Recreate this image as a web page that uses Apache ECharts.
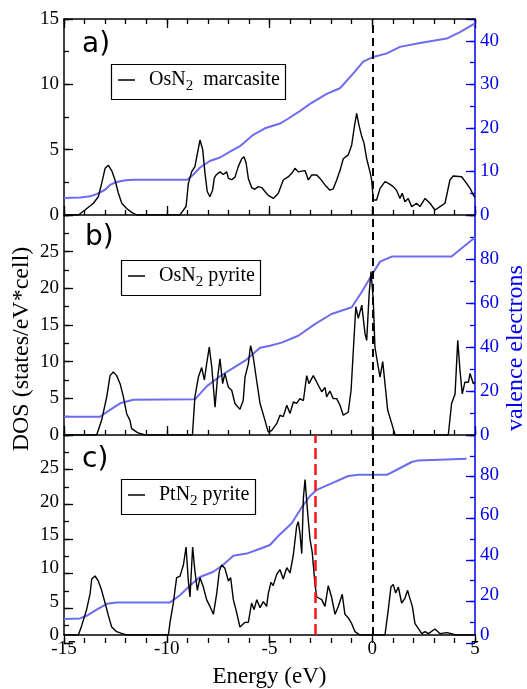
<!DOCTYPE html>
<html>
<head>
<meta charset="utf-8">
<script src="https://cdn.jsdelivr.net/npm/echarts@6/dist/echarts.min.js"></script>
<style>
  html, body { margin: 0; padding: 0; background: #fff; }
  #chart { width: 527px; height: 689px; }
</style>
</head>
<body>
<div id="chart"></div>
<script>
// energy range and tick labels
var energyMin = -15, energyMax = 5;
var fermiLevel = 0;
var redMarker = -2.75;

// panel a) OsN2 marcasite : [energy, DOS]
var dosA = [[-15,0],[-14.3,0],[-13.98,0.38],[-13.57,0.9],[-13.33,1.4],[-13.17,2.4],[-13.0,3.57],[-12.84,3.8],[-12.68,3.4],[-12.52,2.7],[-12.36,1.7],[-12.19,0.9],[-11.95,0.5],[-11.71,0.2],[-11.46,0],[-9.36,0],[-9.27,0.2],[-9.06,0.65],[-8.95,2.4],[-8.79,3.3],[-8.63,3.7],[-8.51,4.7],[-8.38,5.74],[-8.25,5.0],[-8.14,3.2],[-8.03,1.8],[-7.9,1.4],[-7.77,1.9],[-7.69,2.8],[-7.6,3.06],[-7.41,3.3],[-7.25,3.1],[-7.08,3.3],[-7.0,2.8],[-6.84,2.7],[-6.68,2.9],[-6.52,3.7],[-6.35,4.3],[-6.24,4.46],[-6.14,4.0],[-6.03,2.8],[-5.87,2.1],[-5.71,1.97],[-5.55,2.17],[-5.38,2.1],[-5.22,1.8],[-5.06,1.5],[-4.81,1.27],[-4.57,1.66],[-4.33,2.68],[-4.08,2.93],[-3.92,3.19],[-3.76,3.57],[-3.6,3.3],[-3.43,3.36],[-3.27,3.4],[-3.11,2.68],[-2.95,3.06],[-2.7,3.06],[-2.54,2.8],[-2.3,2.3],[-2.06,1.9],[-1.9,2.0],[-1.73,2.68],[-1.57,3.4],[-1.41,4.3],[-1.17,4.6],[-1.0,5.36],[-0.87,6.76],[-0.76,7.78],[-0.65,6.9],[-0.51,6.0],[-0.4,5.5],[-0.27,4.3],[-0.11,3.3],[-0.03,2.68],[0.05,1.15],[0.21,1.15],[0.38,2.04],[0.62,2.55],[0.81,2.4],[1.02,2.17],[1.18,1.9],[1.35,1.27],[1.46,1.66],[1.59,1.02],[1.75,1.27],[1.92,0.64],[2.16,0.9],[2.32,0.64],[2.57,1.27],[2.81,0.9],[3.05,0.38],[3.3,0.64],[3.54,0.9],[3.78,2.68],[3.94,2.98],[4.35,2.93],[4.6,2.4],[4.76,2.04],[4.92,1.53],[5,1.35]];
// panel a) integrated valence electrons
var elecA = [[-15,3.9],[-14.2,4.0],[-13.73,4.3],[-13.41,4.8],[-13.0,5.8],[-12.76,6.9],[-12.44,7.6],[-12.0,8.0],[-11.63,8.1],[-9.0,8.1],[-8.7,9.3],[-8.38,10.9],[-7.9,12.4],[-7.41,13.2],[-6.9,14.6],[-6.44,15.8],[-5.79,18.4],[-5.22,19.9],[-4.49,21.0],[-4.1,22.1],[-3.6,23.6],[-3.03,25.5],[-2.54,26.9],[-2.22,27.8],[-1.57,29.1],[-0.92,32.5],[-0.44,35.2],[0,36.2],[0.71,37.1],[1.35,38.6],[2.32,39.5],[3.62,40.5],[4.27,42.0],[5,44.0]];

// panel b) OsN2 pyrite
var dosB = [[-15,0],[-13.41,0],[-13.17,2.0],[-12.92,5.2],[-12.76,8.1],[-12.6,8.6],[-12.44,8.1],[-12.27,7.0],[-12.11,5.2],[-11.95,2.9],[-11.79,2.0],[-11.71,0.87],[-11.46,0.4],[-11.3,0.2],[-11.06,0],[-8.75,0],[-8.63,5.2],[-8.46,7.9],[-8.3,9.2],[-8.17,7.5],[-8.06,9.7],[-7.93,12.0],[-7.81,9.3],[-7.65,3.8],[-7.54,7.5],[-7.41,10.4],[-7.28,7.0],[-7.17,8.4],[-7.0,6.5],[-6.84,6.1],[-6.68,4.3],[-6.44,3.5],[-6.28,4.7],[-6.19,7.9],[-6.03,9.7],[-5.92,12.2],[-5.79,10.6],[-5.63,7.5],[-5.46,4.3],[-5.22,2.0],[-5.06,0.4],[-4.9,0.6],[-4.65,1.55],[-4.49,2.7],[-4.33,2.5],[-4.16,4.05],[-4.0,2.95],[-3.84,4.5],[-3.68,4.3],[-3.52,4.96],[-3.35,4.7],[-3.19,8.1],[-3.08,7.0],[-2.87,8.1],[-2.7,7.2],[-2.46,5.9],[-2.3,6.5],[-2.22,5.2],[-2.06,6.0],[-1.9,4.96],[-1.73,4.96],[-1.57,4.05],[-1.41,2.7],[-1.17,3.1],[-1.03,6.1],[-0.92,11.6],[-0.8,17.5],[-0.68,15.9],[-0.51,17.7],[-0.35,13.8],[-0.27,12.9],[-0.15,19.3],[-0.06,22.3],[0.05,18.4],[0.13,12.0],[0.29,9.3],[0.38,7.9],[0.51,10.0],[0.62,7.0],[0.75,3.4],[0.95,1.55],[1.11,0],[3.7,0],[3.86,4.3],[4.03,5.6],[4.16,12.9],[4.27,8.8],[4.38,5.6],[4.51,7.2],[4.68,7.2],[4.76,8.4],[4.92,7.0],[5,7.2]];
var elecB = [[-15,8.3],[-13.25,8.3],[-12.76,11.4],[-12.27,14.4],[-11.63,16.0],[-8.63,16.2],[-8.06,22.1],[-7.41,26.7],[-6.76,30.5],[-6.11,34.3],[-5.46,39.7],[-4.98,40.6],[-4.41,42.0],[-3.6,45.1],[-2.79,50.4],[-1.98,55.0],[-1.0,58.1],[-0.51,65.0],[-0.03,72.6],[0.38,78.8],[0.95,81.1],[3.86,81.1],[4.35,84.9],[5,89.8]];

// panel c) PtN2 pyrite
var dosC = [[-15,0],[-14.3,0],[-14.14,1.4],[-13.9,3.8],[-13.73,6.2],[-13.65,8.4],[-13.49,8.85],[-13.33,8.1],[-13.17,6.7],[-13.0,4.8],[-12.84,2.9],[-12.68,1.2],[-12.44,0.5],[-12.2,0.25],[-11.95,0],[-9.92,0],[-9.84,1.9],[-9.68,4.8],[-9.52,8.6],[-9.36,8.8],[-9.19,10.5],[-9.06,13.2],[-8.95,8.1],[-8.87,5.7],[-8.74,13.2],[-8.63,9.6],[-8.51,6.7],[-8.38,8.6],[-8.22,7.2],[-8.06,5.3],[-7.9,4.3],[-7.73,3.1],[-7.57,6.2],[-7.44,9.6],[-7.33,10.5],[-7.17,10.0],[-7.0,8.1],[-6.89,8.6],[-6.76,5.3],[-6.6,3.4],[-6.44,1.2],[-6.19,1.9],[-6.03,1.9],[-5.87,4.8],[-5.75,3.8],[-5.62,5.3],[-5.46,4.1],[-5.3,5.0],[-5.14,4.3],[-5.06,6.2],[-4.93,7.9],[-4.82,7.4],[-4.65,9.1],[-4.49,9.8],[-4.33,8.4],[-4.16,10.1],[-4.0,9.3],[-3.84,12.0],[-3.68,16.3],[-3.6,17.0],[-3.52,15.3],[-3.43,12.2],[-3.35,20.6],[-3.27,23.3],[-3.14,18.2],[-3.03,14.4],[-2.92,12.4],[-2.79,7.7],[-2.7,5.7],[-2.46,5.3],[-2.3,4.3],[-2.14,7.4],[-1.98,5.7],[-1.81,3.1],[-1.65,4.3],[-1.46,6.1],[-1.33,3.1],[-1.17,2.6],[-1.0,1.7],[-0.84,0.5],[-0.6,0],[0.62,0],[0.78,3.8],[0.91,7.2],[1.02,7.6],[1.14,6.3],[1.27,7.2],[1.43,4.8],[1.59,5.5],[1.72,6.7],[1.83,5.5],[1.95,4.3],[2.08,1.7],[2.24,1.0],[2.41,0.2],[2.57,0.5],[2.73,0.2],[3.05,0.9],[3.3,0.2],[3.62,0.35],[3.86,0.2],[4.03,0],[5,0]];
var elecC = [[-15,8.0],[-14.22,8.3],[-13.9,9.6],[-13.41,12.7],[-12.92,15.6],[-12.44,16.3],[-9.84,16.3],[-9.36,19.9],[-8.87,24.7],[-8.38,29.0],[-7.73,31.6],[-7.25,35.1],[-6.76,39.6],[-6.11,40.7],[-5.46,43.1],[-4.98,45.0],[-4.57,49.5],[-3.92,55.9],[-3.43,63.9],[-3.03,69.5],[-2.7,72.6],[-1.98,75.8],[-1.17,79.5],[-0.68,80.1],[0.71,80.1],[1.27,83.0],[1.92,86.5],[2.24,87.3],[4.59,88.1]];

var seriesNames = ['OsN2 marcasite', 'OsN2 pyrite', 'PtN2 pyrite'];
var panelLabels = ['a)', 'b)', 'c)'];

// left (DOS) and right (electrons) scales per panel: [max, major step, minor step]
var dosScale = [[15, 5, 2.5], [30, 5, 2.5], [30, 5, 2.5]];
var elecScale = [[45, 10, 5], [100, 20, 10], [100, 20, 10]];

var SERIF = 'Liberation Serif';
var BLUE = '#0000ee';
var LINEBLUE = '#6c6cf0';

var LEFT = 64, RIGHT = 52, PLOT_R = 527 - RIGHT;
var panels = [{top: 19, height: 196}, {top: 215, height: 220}, {top: 435, height: 208}];

var grids = [], xAxes = [], yAxes = [];

// main panels: axis lines and labels
panels.forEach(function (p, i) {
  grids.push({left: LEFT, right: RIGHT, top: p.top, height: p.height});
});
panels.forEach(function (p, i) {
  var ax = {
    type: 'value', gridIndex: i, position: 'bottom',
    min: energyMin, max: energyMax, interval: 5,
    axisLine: {show: true, onZero: false, lineStyle: {color: '#000', width: 1.5}},
    axisTick: {show: false},
    splitLine: {show: false},
    axisLabel: {show: i === 2, color: '#000', fontFamily: SERIF, fontSize: 19, margin: 5}
  };
  if (i === 2) {
    ax.name = 'Energy (eV)';
    ax.nameLocation = 'middle';
    ax.nameGap = 30;
    ax.nameTextStyle = {fontFamily: SERIF, fontSize: 23, color: '#000'};
  }
  xAxes.push(ax);
});
xAxes.push({
  type: 'value', gridIndex: 0, position: 'top',
  min: energyMin, max: energyMax, interval: 5,
  axisLine: {show: true, onZero: false, lineStyle: {color: '#000', width: 1.5}},
  axisTick: {show: false}, splitLine: {show: false}, axisLabel: {show: false}
});

function mainY(i, side, scale, showMax, color) {
  var max = scale[0];
  return {
    type: 'value', gridIndex: i, position: side,
    min: 0, max: max, interval: scale[1],
    axisLine: {show: true, onZero: false, lineStyle: {color: color, width: 1.5}},
    axisTick: {show: false},
    splitLine: {show: false},
    axisLabel: {
      color: color, fontFamily: SERIF, fontSize: 19, margin: 5,
      formatter: function (v) { return (!showMax && v >= max) ? '' : String(v); }
    }
  };
}
panels.forEach(function (p, i) {
  yAxes.push(mainY(i, 'left', dosScale[i], i === 0, '#000'));
  yAxes.push(mainY(i, 'right', elecScale[i], false, BLUE));
});

// inward tick marks: thin strip grids whose split lines act as ticks
function xTickStrip(top, len, interval) {
  grids.push({left: LEFT, right: RIGHT, top: top, height: len});
  var g = grids.length - 1;
  xAxes.push({
    type: 'value', gridIndex: g, min: energyMin, max: energyMax, interval: interval,
    axisLine: {show: false, onZero: false}, axisTick: {show: false}, axisLabel: {show: false},
    splitLine: {show: true, lineStyle: {color: '#000', width: 1.3}}
  });
  yAxes.push({type: 'value', gridIndex: g, show: false, min: 0, max: 1});
}
function yTickStrip(left, len, p, max, interval, color) {
  grids.push({left: left, width: len, top: p.top, height: p.height});
  var g = grids.length - 1;
  yAxes.push({
    type: 'value', gridIndex: g, min: 0, max: max, interval: interval,
    axisLine: {show: false, onZero: false}, axisTick: {show: false}, axisLabel: {show: false},
    splitLine: {show: true, lineStyle: {color: color, width: 1.3}}
  });
  xAxes.push({type: 'value', gridIndex: g, show: false, min: 0, max: 1});
}

var MAJOR = 9, MINOR = 5;
panels.forEach(function (p, i) {
  var bottom = p.top + p.height;
  xTickStrip(bottom - MAJOR, MAJOR, 5);
  xTickStrip(bottom - MINOR, MINOR, 1);
  yTickStrip(LEFT, MAJOR, p, dosScale[i][0], dosScale[i][1], '#000');
  yTickStrip(LEFT, MINOR, p, dosScale[i][0], dosScale[i][2], '#000');
  yTickStrip(PLOT_R - MAJOR, MAJOR, p, elecScale[i][0], elecScale[i][1], BLUE);
  yTickStrip(PLOT_R - MINOR, MINOR, p, elecScale[i][0], elecScale[i][2], BLUE);
});
xTickStrip(panels[0].top, MAJOR, 5);
xTickStrip(panels[0].top, MINOR, 1);

// legend boxes and panel letters as title components
var legendBoxes = [
  {left: 111, top: 64},
  {left: 121, top: 260},
  {left: 121, top: 479}
];
var labelPos = [[82, 31], [85, 224], [82, 446]];

var titles = [];
legendBoxes.forEach(function (b, i) {
  var txt = seriesNames[i].replace('2', '{sub|2}');
  if (i === 0) txt = txt.replace(' ', '  ');
  titles.push({
    left: b.left, top: b.top,
    text: '{ln|}{gap|}' + txt,
    borderColor: '#000', borderWidth: 1.2,
    padding: [5, 6, 6, 7],
    textStyle: {
      fontFamily: SERIF, fontSize: 20, fontWeight: 'normal', color: '#000', lineHeight: 22,
      rich: {
        ln: {width: 17, height: 1.5, backgroundColor: '#000', verticalAlign: 'middle'},
        gap: {width: 14},
        sub: {fontFamily: SERIF, fontSize: 15, color: '#000', lineHeight: 12, padding: [10, 0, 0, 0], verticalAlign: 'top'}
      }
    }
  });
});
labelPos.forEach(function (p, i) {
  titles.push({
    left: p[0], top: p[1], padding: 0,
    text: panelLabels[i],
    textStyle: {fontFamily: 'DejaVu Sans', fontSize: 28, fontWeight: 'normal', color: '#000'}
  });
});

// rotated axis titles
var graphics = [
  {
    type: 'text', x: 22, y: 349, rotation: Math.PI / 2,
    style: {text: 'DOS (states/eV*cell)', font: '24px "Liberation Serif"', fill: '#000', align: 'center', verticalAlign: 'middle'}
  },
  {
    type: 'text', x: 516, y: 348, rotation: Math.PI / 2,
    style: {text: 'valence electrons', font: '24px "Liberation Serif"', fill: BLUE, align: 'center', verticalAlign: 'middle'}
  }
];

function fermiLine(extra) {
  var data = [{xAxis: fermiLevel}];
  if (extra) data.push(extra);
  return {
    symbol: ['none', 'none'], silent: true,
    label: {show: false},
    lineStyle: {color: '#000', type: [8, 5], width: 2},
    data: data
  };
}

var dosSets = [dosA, dosB, dosC];
var elecSets = [elecA, elecB, elecC];
var series = [];
for (var i = 0; i < 3; i++) {
  series.push({
    type: 'line', name: 'electrons ' + i,
    xAxisIndex: i, yAxisIndex: i * 2 + 1,
    data: elecSets[i], symbol: 'none',
    lineStyle: {color: LINEBLUE, width: 2}, itemStyle: {color: LINEBLUE}
  });
  series.push({
    type: 'line', name: seriesNames[i],
    xAxisIndex: i, yAxisIndex: i * 2,
    data: dosSets[i], symbol: 'none',
    lineStyle: {color: '#000', width: 1.4}, itemStyle: {color: '#000'},
    markLine: fermiLine(i === 2 ? {xAxis: redMarker, lineStyle: {color: '#f01818', type: [11, 5], width: 2.5}} : null)
  });
}

var chart = echarts.init(document.getElementById('chart'));
chart.setOption({
  animation: false,
  title: titles,
  grid: grids,
  xAxis: xAxes,
  yAxis: yAxes,
  series: series,
  graphic: graphics
});
</script>
</body>
</html>
